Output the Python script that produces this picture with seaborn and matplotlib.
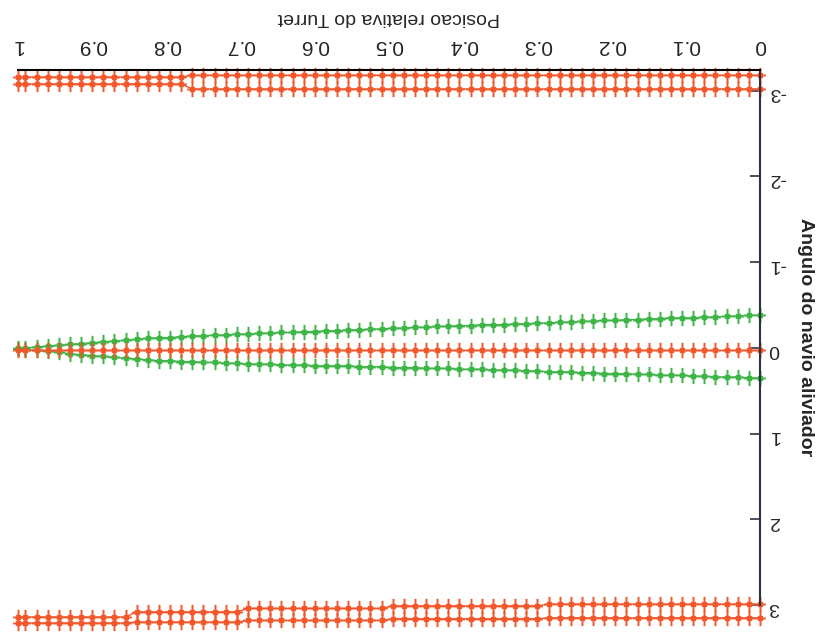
import matplotlib
matplotlib.use("Agg")
import matplotlib.pyplot as plt
from matplotlib.path import Path
import pandas as pd
import seaborn as sns

# Turret relative position samples
turret_pos = [
    0.000, 0.015, 0.030, 0.045, 0.060, 0.075, 0.090, 0.105, 0.120, 0.135,
    0.150, 0.165, 0.180, 0.195, 0.210, 0.225, 0.240, 0.255, 0.270, 0.285,
    0.300, 0.315, 0.330, 0.345, 0.360, 0.375, 0.390, 0.405, 0.420, 0.435,
    0.450, 0.465, 0.480, 0.495, 0.510, 0.525, 0.540, 0.555, 0.570, 0.585,
    0.600, 0.615, 0.630, 0.645, 0.660, 0.675, 0.690, 0.705, 0.720, 0.735,
    0.750, 0.765, 0.780, 0.795, 0.810, 0.825, 0.840, 0.855, 0.870, 0.885,
    0.900, 0.915, 0.930, 0.945, 0.960, 0.975, 0.990, 1.000,
]

# Stable branch near 0 rad (green, two sides)
green_upper = [
    -0.38, -0.38, -0.37, -0.37, -0.36, -0.36, -0.35, -0.35, -0.35, -0.34,
    -0.34, -0.33, -0.33, -0.32, -0.32, -0.31, -0.31, -0.30, -0.30, -0.29,
    -0.29, -0.28, -0.28, -0.27, -0.27, -0.27, -0.26, -0.26, -0.25, -0.25,
    -0.24, -0.24, -0.23, -0.23, -0.22, -0.22, -0.21, -0.21, -0.20, -0.20,
    -0.19, -0.19, -0.18, -0.18, -0.17, -0.17, -0.16, -0.16, -0.15, -0.15,
    -0.14, -0.14, -0.13, -0.12, -0.12, -0.11, -0.10, -0.09, -0.08, -0.07,
    -0.06, -0.05, -0.04, -0.03, -0.02, -0.01, 0.00, 0.00,
]
green_lower = [
    0.35, 0.35, 0.34, 0.34, 0.34, 0.33, 0.33, 0.32, 0.32, 0.32,
    0.31, 0.31, 0.30, 0.30, 0.30, 0.29, 0.29, 0.28, 0.28, 0.28,
    0.27, 0.27, 0.26, 0.26, 0.26, 0.25, 0.25, 0.25, 0.24, 0.24,
    0.24, 0.23, 0.23, 0.23, 0.22, 0.22, 0.22, 0.21, 0.21, 0.21,
    0.21, 0.20, 0.20, 0.20, 0.19, 0.19, 0.19, 0.18, 0.18, 0.17,
    0.17, 0.16, 0.16, 0.15, 0.15, 0.14, 0.13, 0.12, 0.11, 0.10,
    0.09, 0.08, 0.07, 0.05, 0.04, 0.03, 0.02, 0.01,
]

# Unstable branches (orange): centre and the +/- pi heading
orange_center = [0.02] * 68
orange_top_a = [-3.18] * 52 + [-3.16] * 16
orange_top_b = [-3.02] * 52 + [-3.08] * 16
orange_bottom_a = [2.99] * 20 + [3.01] * 14 + [3.04] * 13 + [3.08] * 10 + [3.14] * 11
orange_bottom_b = [3.15] * 20 + [3.16] * 14 + [3.18] * 13 + [3.20] * 10 + [3.21] * 11

x_ticks = [0, 0.1, 0.2, 0.3, 0.4, 0.5, 0.6, 0.7, 0.8, 0.9, 1]
x_tick_labels = ["0", "0.1", "0.2", "0.3", "0.4", "0.5", "0.6", "0.7", "0.8", "0.9", "1"]
y_ticks = [-3, -2, -1, 0, 1, 2, 3]
y_tick_labels = ["-3", "-2", "-1", "0", "1", "2", "3"]

ORANGE = "#f1572a"
GREEN = "#3db446"

series = [
    ("green_upper", green_upper, GREEN),
    ("green_lower", green_lower, GREEN),
    ("orange_top_a", orange_top_a, ORANGE),
    ("orange_top_b", orange_top_b, ORANGE),
    ("orange_bottom_a", orange_bottom_a, ORANGE),
    ("orange_bottom_b", orange_bottom_b, ORANGE),
    ("orange_center", orange_center, ORANGE),
]

# Spreadsheet-style star marker: tall bar, crossbar and a small X
star = Path(
    [(0, -1), (0, 1), (-0.7, 0), (0.7, 0), (-0.3, -0.3), (0.3, 0.3), (-0.3, 0.3), (0.3, -0.3)],
    [Path.MOVETO, Path.LINETO, Path.MOVETO, Path.LINETO,
     Path.MOVETO, Path.LINETO, Path.MOVETO, Path.LINETO],
)

sns.set_style("white")
plt.rcParams["font.family"] = ["Liberation Sans", "DejaVu Sans"]
plt.rcParams["axes.unicode_minus"] = False

fig = plt.figure(figsize=(8.21, 6.38), dpi=100)
ax = fig.add_axes([0.0219, 0.0517, 0.9038, 0.8383])

for name, vals, color in series:
    frame = pd.DataFrame({"pos": turret_pos, "angle": vals})
    sns.lineplot(
        data=frame, x="pos", y="angle", estimator=None, sort=False,
        color=color, marker=star, markersize=11, markeredgewidth=1.4,
        markeredgecolor=color, markerfacecolor=color, linewidth=1.0,
        legend=False, ax=ax, clip_on=False,
    )

# The chart is laid out turned half a turn: axes reversed, text upside down
ax.set_xlim(1.0, 0.0)
ax.set_ylim(3.0, -3.24)

ax.xaxis.tick_top()
ax.xaxis.set_label_position("top")
ax.set_xticks(x_ticks)
ax.set_xticklabels(x_tick_labels, rotation=180, fontsize=15)
ax.tick_params(axis="x", length=0, pad=11)

ax.yaxis.tick_right()
ax.yaxis.set_label_position("right")
ax.set_yticks(y_ticks)
ax.set_yticklabels(y_tick_labels, rotation=180, fontsize=14)
ax.tick_params(axis="y", direction="in", length=7, width=1.2, color="#2d3142", pad=6)

ax.set_xlabel("Posicao relativa do Turret", rotation=180, fontsize=14, labelpad=10)
ax.set_ylabel("Angulo do navio aliviador", rotation=270, fontsize=14,
              fontweight="bold", labelpad=8, va="bottom")

for side in ("left", "bottom"):
    ax.spines[side].set_visible(False)
ax.spines["top"].set_color("black")
ax.spines["top"].set_linewidth(1.5)
ax.spines["right"].set_color("#2d3142")
ax.spines["right"].set_linewidth(1.5)
ax.set_zorder(1)

fig.savefig("out.png", dpi=100, facecolor="white")
